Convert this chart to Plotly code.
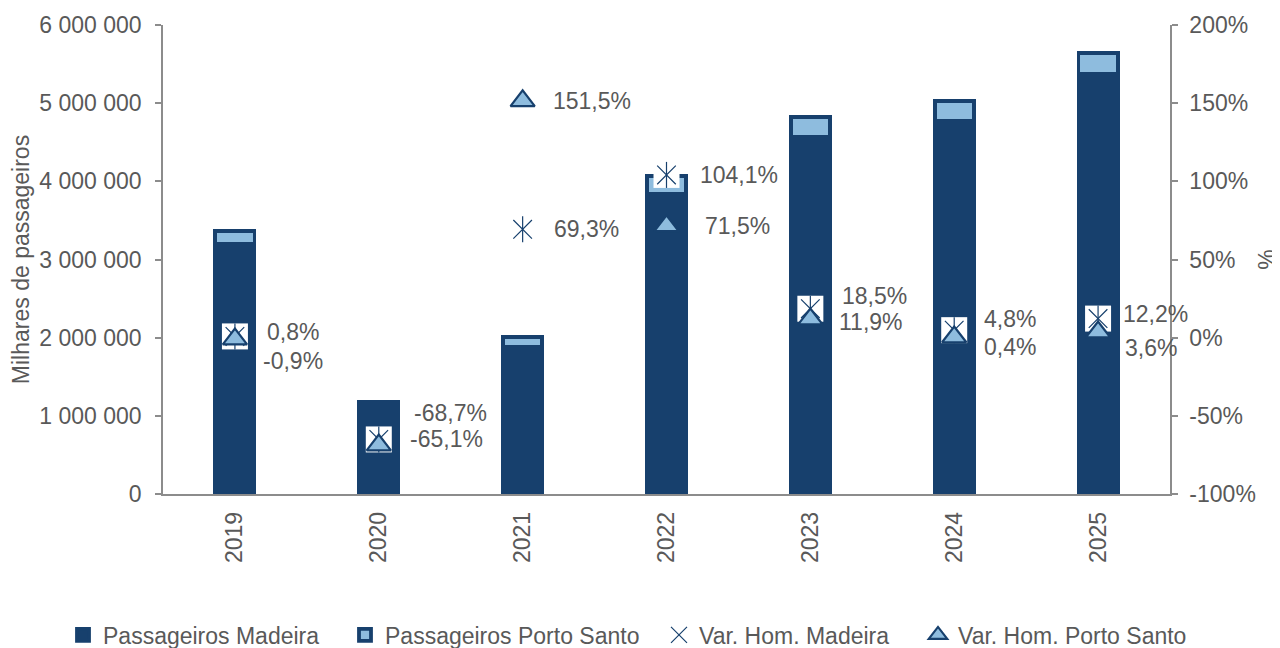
import plotly.graph_objects as go

# ---------------- data ----------------
years = ["2019", "2020", "2021", "2022", "2023", "2024", "2025"]
pax_madeira = [3196000, 1125000, 1876000, 3840000, 4567000, 4770000, 5376000]
pax_porto_santo = [170000, 53000, 134000, 230000, 257000, 258000, 267000]
var_madeira = [0.8, -65.1, 69.3, 104.1, 18.5, 4.8, 12.2]
var_porto_santo = [-0.9, -68.7, 151.5, 71.5, 11.9, 0.4, 3.6]
left_ticks = [0, 1000000, 2000000, 3000000, 4000000, 5000000, 6000000]
right_ticks = [-100, -50, 0, 50, 100, 150, 200]

# ---------------- styles ----------------
DARK = "#17406D"
LIGHT = "#8EBCDE"
GREY_TXT = "#595959"
AXIS = "#8C8C8C"
FONT = "Liberation Sans, Arial, sans-serif"
FS = 23

# label offsets (pixels) for readability, like the manual label placement
mad_label_dy = [4, 0, 0, 0, 13, 11, 5]
mad_label_dx = [30, 29, 29, 31, 30, 28, 23]
ps_label_dy = [-22, 32, 0, 0, -3, -10, -16]
ps_label_dx = [26, 33, 28, 36, 27, 28, 25]

# page has an 8px body margin: figure is placed at (8, 8)
W, H = 1272, 640


def pct(v):
    return f"{v:.1f}".replace(".", ",") + "%"


def thousands(v):
    return f"{v:,}".replace(",", " ")


fig = go.Figure()

bar_w = 0.272
fig.add_trace(go.Bar(
    x=years, y=pax_madeira, name="Passageiros Madeira", width=bar_w,
    marker=dict(color=DARK, line=dict(color=DARK, width=3.8)),
    legend="legend",
))
fig.add_trace(go.Bar(
    x=years, y=pax_porto_santo, name="Passageiros Porto Santo", width=bar_w,
    marker=dict(color=LIGHT, line=dict(color=DARK, width=3.8)),
    legend="legend2",
))

# Madeira variation: white square behind an asterisk (X + vertical stroke)
fig.add_trace(go.Scatter(
    x=years, y=var_madeira, yaxis="y2", mode="markers", showlegend=False,
    hoverinfo="skip",
    marker=dict(symbol="square", size=26, color="white", line=dict(width=0)),
))
fig.add_trace(go.Scatter(
    x=years, y=var_madeira, yaxis="y2", mode="markers", showlegend=False,
    hoverinfo="skip",
    marker=dict(symbol="line-ns-open", size=18.6, color=DARK,
                line=dict(color=DARK, width=1.2)),
))
fig.add_trace(go.Scatter(
    x=years, y=var_madeira, yaxis="y2", mode="markers", name="Var. Hom. Madeira",
    marker=dict(symbol="x-thin-open", size=18.6, color=DARK,
                line=dict(color=DARK, width=1.2)),
    legend="legend3",
))
fig.add_trace(go.Scatter(
    x=years, y=var_porto_santo, yaxis="y2", mode="markers",
    name="Var. Hom. Porto Santo",
    marker=dict(symbol="triangle-up", size=21, color=LIGHT,
                line=dict(color=DARK, width=2.2)),
    legend="legend4",
))

annotations = []
for i in range(len(years)):
    annotations.append(dict(
        x=i, y=var_madeira[i], xref="x", yref="y2", text=pct(var_madeira[i]),
        showarrow=False, xanchor="left", yanchor="middle",
        xshift=mad_label_dx[i], yshift=mad_label_dy[i],
        font=dict(family=FONT, size=FS, color=GREY_TXT),
    ))
    annotations.append(dict(
        x=i, y=var_porto_santo[i], xref="x", yref="y2",
        text=pct(var_porto_santo[i]),
        showarrow=False, xanchor="left", yanchor="middle",
        xshift=ps_label_dx[i], yshift=ps_label_dy[i],
        font=dict(family=FONT, size=FS, color=GREY_TXT),
    ))

leg_y = 1 - 627 / H
leg_common = dict(orientation="h", xref="container", yref="container",
                  xanchor="left", yanchor="middle", y=leg_y,
                  font=dict(size=FS, color=GREY_TXT), itemwidth=30,
                  bgcolor="rgba(0,0,0,0)")
# text starts (page px) approx 103, 385, 699, 958
leg_text_x = [103, 385, 699, 958]
legends = {}
for k, tx in enumerate(leg_text_x):
    key = "legend" if k == 0 else f"legend{k + 1}"
    legends[key] = dict(leg_common, x=(tx - 8 - 40) / W)

fig.update_layout(
    width=W, height=H,
    margin=dict(l=155, r=110, t=17, b=154),
    paper_bgcolor="white", plot_bgcolor="white",
    barmode="stack",
    font=dict(family=FONT, size=FS, color=GREY_TXT),
    annotations=annotations,
    xaxis=dict(
        type="category", range=[-0.5, len(years) - 0.5], automargin=False,
        showline=True, linecolor=AXIS, linewidth=1.5,
        ticks="outside", ticklen=7, tickcolor="rgba(0,0,0,0)",
        tickangle=-90, tickfont=dict(size=FS, color=GREY_TXT),
        showgrid=False, zeroline=False,
    ),
    yaxis=dict(
        range=[0, 6000000], tickvals=left_ticks, automargin=False,
        ticktext=[thousands(v) for v in left_ticks],
        showline=True, linecolor=AXIS, linewidth=1.5,
        ticks="outside", ticklen=6, tickcolor=AXIS, tickwidth=1.5,
        ticklabelstandoff=9,
        showgrid=False, zeroline=False,
        tickfont=dict(size=FS, color=GREY_TXT),
        title=dict(text="Milhares de passageiros", standoff=8,
                   font=dict(size=FS, color=GREY_TXT)),
    ),
    yaxis2=dict(
        overlaying="y", side="right", range=[-100, 200], tickvals=right_ticks,
        automargin=False,
        ticktext=[f"{v}%" for v in right_ticks],
        showline=True, linecolor=AXIS, linewidth=1.5,
        ticks="outside", ticklen=6, tickcolor=AXIS, tickwidth=1.5,
        ticklabelstandoff=7,
        showgrid=False, zeroline=False,
        tickfont=dict(size=FS, color=GREY_TXT),
        title=dict(text="%", standoff=18, font=dict(size=FS, color=GREY_TXT)),
    ),
    **legends,
)

fig.write_html("out.html")
